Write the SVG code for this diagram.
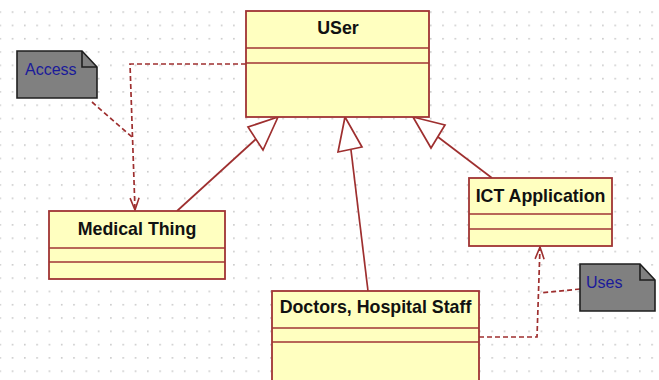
<svg xmlns="http://www.w3.org/2000/svg" width="659" height="380" viewBox="0 0 659 380">
  <defs>
    <pattern id="grid" x="11.7" y="11.3" width="12.3" height="13.3" patternUnits="userSpaceOnUse">
      <rect x="0" y="0" width="1.6" height="1.6" fill="#c9c9c9"/>
    </pattern>
    <!-- open arrowhead for dependencies, tip at the line end -->
    <marker id="open" viewBox="0 0 14 12" refX="13" refY="6" markerWidth="14" markerHeight="12" markerUnits="userSpaceOnUse" orient="auto">
      <path d="M1,1.5 L13,6 L1,10.5" fill="none" stroke="#9e2f2f" stroke-width="1.6"/>
    </marker>
  </defs>
  <style>
    .box { fill: #ffffc0; stroke: #a03434; stroke-width: 1.8; }
    .sep { stroke: #a03434; stroke-width: 1.6; }
    .title { font-family: "Liberation Sans", Arial, sans-serif; font-weight: bold; font-size: 17.8px; fill: #111; text-anchor: middle; }
    .note { fill: #808080; stroke: #1e1e1e; stroke-width: 1.6; }
    .fold { fill: none; stroke: #1e1e1e; stroke-width: 1.6; }
    .notetext { font-family: "Liberation Sans", Arial, sans-serif; font-size: 16px; fill: #1a1a9a; }
    .gen { fill: none; stroke: #9e2f2f; stroke-width: 1.7; }
    .tri { fill: #ffffff; stroke: #9e2f2f; stroke-width: 1.7; stroke-linejoin: miter; }
    .dash { fill: none; stroke: #9e2f2f; stroke-width: 1.7; stroke-dasharray: 5 3; }
  </style>

  <rect width="659" height="380" fill="#ffffff"/>
  <rect width="659" height="380" fill="url(#grid)"/>

  <!-- connectors -->
  <g id="connectors">
    <!-- generalizations -->
    <line class="gen" x1="177" y1="211" x2="256" y2="139"/>
    <polygon class="tri" points="278,117 248,127 263,150"/>
    <line class="gen" x1="368" y1="291" x2="351" y2="150"/>
    <polygon class="tri" points="345,117 338,152 362,147"/>
    <line class="gen" x1="492" y1="178" x2="438" y2="137"/>
    <polygon class="tri" points="413,117 445,125 431,148"/>
    <!-- dependencies -->
    <polyline class="dash" points="246,64 130,64 135,210" marker-end="url(#open)"/>
    <line class="dash" x1="92" y1="102" x2="132" y2="137"/>
    <polyline class="dash" points="479,337 537,337 540,247" marker-end="url(#open)"/>
    <line class="dash" x1="580" y1="289" x2="540" y2="293"/>
  </g>

  <!-- classes -->
  <g id="user">
    <rect class="box" x="246" y="11" width="183" height="106"/>
    <line class="sep" x1="246" y1="48" x2="429" y2="48"/>
    <line class="sep" x1="246" y1="63" x2="429" y2="63"/>
    <text class="title" x="338" y="34">USer</text>
  </g>

  <g id="medical-thing">
    <rect class="box" x="49" y="211" width="176" height="68"/>
    <line class="sep" x1="49" y1="248" x2="225" y2="248"/>
    <line class="sep" x1="49" y1="262" x2="225" y2="262"/>
    <text class="title" x="137" y="235">Medical Thing</text>
  </g>

  <g id="ict-application">
    <rect class="box" x="469" y="178" width="143" height="68"/>
    <line class="sep" x1="469" y1="214" x2="612" y2="214"/>
    <line class="sep" x1="469" y1="229" x2="612" y2="229"/>
    <text class="title" x="540.5" y="202">ICT Application</text>
  </g>

  <g id="doctors-staff">
    <rect class="box" x="272" y="291" width="207" height="100"/>
    <line class="sep" x1="272" y1="328" x2="479" y2="328"/>
    <line class="sep" x1="272" y1="342" x2="479" y2="342"/>
    <text class="title" x="375.5" y="313">Doctors, Hospital Staff</text>
  </g>

  <!-- notes -->
  <g id="note-access">
    <polygon class="note" points="17,51 82,51 97,67 97,98 17,98"/>
    <polyline class="fold" points="82,51 82,67 97,67"/>
    <text class="notetext" x="25" y="75">Access</text>
  </g>

  <g id="note-uses">
    <polygon class="note" points="580,264 640,264 655,280 655,311 580,311"/>
    <polyline class="fold" points="640,264 640,280 655,280"/>
    <text class="notetext" x="586" y="288">Uses</text>
  </g>
</svg>
